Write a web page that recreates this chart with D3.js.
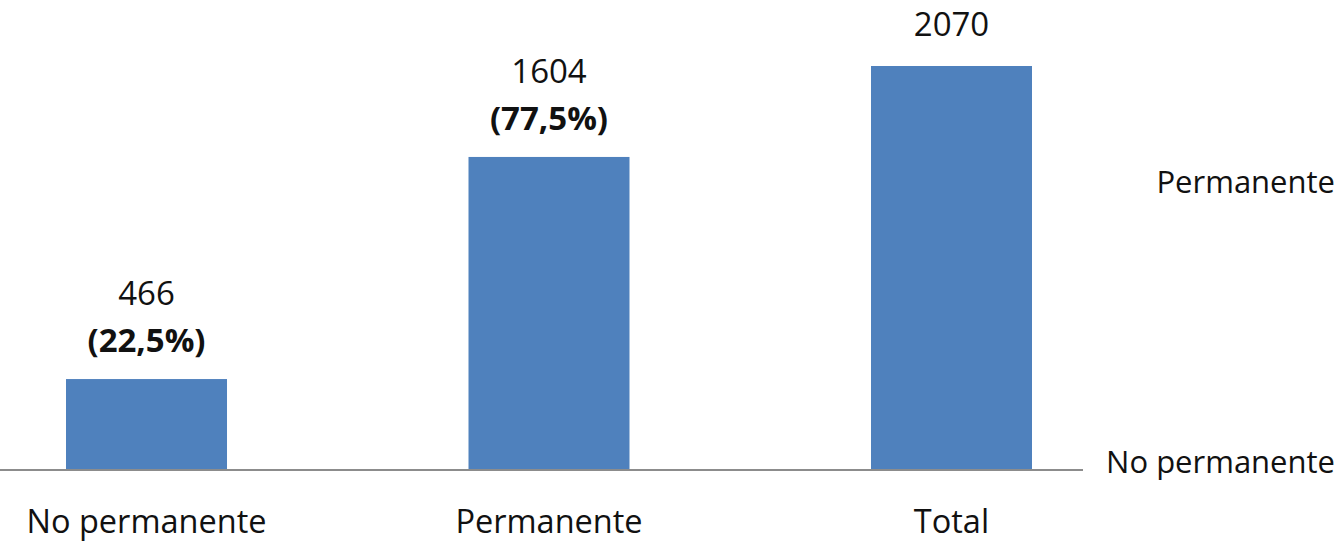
<!DOCTYPE html>
<html>
<head>
<meta charset="utf-8">
<script src="https://cdn.jsdelivr.net/npm/d3@7"></script>
<style>
  html, body { margin: 0; padding: 0; background: #fff; }
  svg { display: block; }
  text { font-family: "Open Sans", "Noto Sans", sans-serif; fill: #111; }
</style>
</head>
<body>
<svg id="chart" width="1339" height="543"></svg>
<script>
// Employment type counts
const categories = ["No permanente", "Permanente", "Total"];
const counts = [466, 1604, 2070];
const shares = ["(22,5%)", "(77,5%)", null];
const sideLabels = ["No permanente", "Permanente"];

const svg = d3.select("#chart");
const baseY = 470, topY = 66;

const x = d3.scaleBand()
  .domain(categories)
  .range([0, 1098])
  .paddingInner(0.6)
  .paddingOuter(0.164);

const y = d3.scaleLinear()
  .domain([0, d3.max(counts)])
  .range([baseY, topY]);

const rows = categories.map((c, i) => ({ cat: c, value: counts[i], share: shares[i] }));

// Bars
svg.append("g").selectAll("rect")
  .data(rows)
  .join("rect")
  .attr("x", d => x(d.cat))
  .attr("y", d => y(d.value))
  .attr("width", x.bandwidth())
  .attr("height", d => y(0) - y(d.value))
  .attr("fill", "#4f81bd");

// Category axis
const xAxis = svg.append("g")
  .attr("transform", `translate(0,${baseY})`)
  .call(d3.axisBottom(x).tickSize(0).tickPadding(40));
xAxis.select(".domain").remove();
xAxis.append("line")
  .attr("x1", 0).attr("x2", 1083)
  .attr("y1", 0).attr("y2", 0)
  .attr("stroke", "#8c8c8c").attr("stroke-width", 2);
xAxis.selectAll(".tick text")
  .attr("font-size", 32.5)
  .attr("font-family", "'Open Sans', 'Noto Sans', sans-serif")
  .attr("fill", "#111");

// Value labels
const labels = svg.append("g").selectAll("g")
  .data(rows)
  .join("g")
  .attr("transform", d => `translate(${x(d.cat) + x.bandwidth() / 2},${y(d.value)})`);

labels.append("text")
  .attr("text-anchor", "middle")
  .attr("font-size", 33)
  .attr("y", d => d.share ? -74 : -30)
  .text(d => d.value);

labels.filter(d => d.share)
  .append("text")
  .attr("text-anchor", "middle")
  .attr("font-size", 33)
  .attr("font-weight", "bold")
  .attr("y", -27)
  .text(d => d.share);

// Side labels on the right
const side = d3.scalePoint()
  .domain(sideLabels)
  .range([462, 182]);

svg.append("g").selectAll("text")
  .data(sideLabels)
  .join("text")
  .attr("x", 1335)
  .attr("y", d => side(d))
  .attr("dy", "0.35em")
  .attr("text-anchor", "end")
  .attr("font-size", 31)
  .text(d => d);
</script>
</body>
</html>
